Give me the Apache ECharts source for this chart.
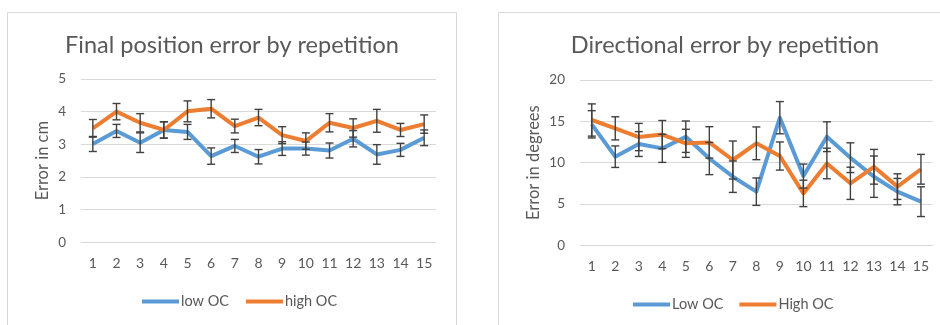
<!DOCTYPE html>
<html><head><meta charset="utf-8">
<script src="https://cdn.jsdelivr.net/npm/echarts@6/dist/echarts.min.js"></script>
<style>html,body{margin:0;padding:0;background:#fff;}#c{width:940px;height:325px;}</style>
</head><body><div id="c"></div>
<script>
const categories = ['1','2','3','4','5','6','7','8','9','10','11','12','13','14','15'];
const posTicks = [0,1,2,3,4,5];
const dirTicks = [0,5,10,15,20];
// Final position error (cm)
const posLow = [3.01,3.41,3.05,3.44,3.38,2.64,2.95,2.62,2.87,2.87,2.81,3.17,2.69,2.83,3.20];
const posLowErr = [0.23,0.20,0.30,0.25,0.23,0.25,0.20,0.22,0.21,0.20,0.23,0.25,0.30,0.20,0.24];
const posHigh = [3.49,4.00,3.66,3.44,4.01,4.09,3.56,3.82,3.28,3.10,3.66,3.50,3.72,3.44,3.62];
const posHighErr = [0.27,0.25,0.28,0.25,0.32,0.28,0.21,0.25,0.26,0.25,0.28,0.28,0.35,0.20,0.28];
// Directional error (degrees)
const dirLow = [14.64,10.72,12.25,11.73,13.14,10.50,8.30,6.49,15.44,8.38,13.14,10.60,8.30,6.49,5.28];
const dirLowErr = [1.65,1.30,1.50,1.70,1.90,1.95,1.90,1.66,1.95,1.45,1.80,1.80,2.50,1.60,1.80];
const dirHigh = [15.16,14.15,13.10,13.40,12.34,12.45,10.32,12.34,10.80,6.28,9.90,7.50,9.50,7.10,9.20];
const dirHighErr = [1.95,1.40,1.65,1.70,1.70,1.90,2.30,1.98,1.70,1.60,1.85,1.95,2.10,1.55,1.80];

const FONT = 'Lato';
const TXT = '#595959';
const BLUE = '#5B9BD5', ORANGE = '#ED7D31';

function errData(vals, errs){ return vals.map((v,i)=>[i, v-errs[i], v+errs[i]]); }
function errRender(params, api){
  const x = api.value(0);
  const lo = api.coord([x, api.value(1)]);
  const hi = api.coord([x, api.value(2)]);
  const w = 4;
  const st = {stroke:'#404040', lineWidth:1.4, fill:null};
  return {type:'group', children:[
    {type:'line', shape:{x1:lo[0],y1:lo[1],x2:hi[0],y2:hi[1]}, style:st},
    {type:'line', shape:{x1:lo[0]-w,y1:lo[1],x2:lo[0]+w,y2:lo[1]}, style:st},
    {type:'line', shape:{x1:hi[0]-w,y1:hi[1],x2:hi[0]+w,y2:hi[1]}, style:st}
  ]};
}
function xAx(gi){ return {type:'category', gridIndex:gi, data:categories, boundaryGap:true,
  axisLine:{show:true, lineStyle:{color:'#D9D9D9'}}, axisTick:{show:false},
  axisLabel:{color:TXT, fontFamily:FONT, fontSize:14, margin:14}}; }
function yAx(gi, ticks, name, gap){ return {type:'value', gridIndex:gi, min:ticks[0], max:ticks[ticks.length-1], interval:ticks[1]-ticks[0],
  name:name, nameLocation:'middle', nameGap:gap, nameTextStyle:{color:TXT, fontFamily:FONT, fontSize:16.5},
  axisLine:{show:false}, axisTick:{show:false},
  axisLabel:{color:TXT, fontFamily:FONT, fontSize:13.5, margin:15},
  splitLine:{lineStyle:{color:'#D9D9D9', width:1}}}; }
function lineS(name, data, color, gi){ return {type:'line', name:name, data:data, xAxisIndex:gi, yAxisIndex:gi,
  symbol:'none', lineStyle:{width:4, color:color, join:'round'}, itemStyle:{color:color}, z:2}; }
function errS(vals, errs, gi){ return {type:'custom', xAxisIndex:gi, yAxisIndex:gi, data:errData(vals, errs),
  renderItem:errRender, encode:{x:0, y:[1,2]}, z:5, silent:true}; }

const chart = echarts.init(document.getElementById('c'), null, {renderer:'canvas'});
chart.setOption({
  animation:false,
  backgroundColor:'#fff',
  graphic:[
    {type:'rect', shape:{x:7.5, y:12.5, width:449, height:340}, style:{fill:null, stroke:'#D9D9D9', lineWidth:1}, z:-10},
    {type:'rect', shape:{x:498.5, y:12.5, width:460, height:340}, style:{fill:null, stroke:'#D9D9D9', lineWidth:1}, z:-10}
  ],
  title:[
    {text:'Final position error by repetition', left:227, top:28, textAlign:'center',
     textStyle:{color:TXT, fontFamily:FONT, fontSize:23.5, fontWeight:'normal'}},
    {text:'Directional error by repetition', left:720, top:28, textAlign:'center',
     textStyle:{color:TXT, fontFamily:FONT, fontSize:23.5, fontWeight:'normal'}}
  ],
  legend:[
    {data:['low OC','high OC'], left:137, top:289, icon:'rect', itemWidth:37, itemHeight:4, itemGap:17,
     textStyle:{color:TXT, fontFamily:FONT, fontSize:14.5, padding:[0,0,0,-3]}},
    {data:['Low OC','High OC'], left:628, top:292, icon:'rect', itemWidth:37, itemHeight:4, itemGap:16,
     textStyle:{color:TXT, fontFamily:FONT, fontSize:14.5, padding:[0,0,0,-3]}}
  ],
  grid:[
    {left:81, right:504, top:79, bottom:82.7},
    {left:580, right:7.3, top:80, bottom:79.7}
  ],
  xAxis:[xAx(0), xAx(1)],
  yAxis:[yAx(0, posTicks, 'Error in cm', 30), yAx(1, dirTicks, 'Error in degrees', 38)],
  series:[
    lineS('low OC', posLow, BLUE, 0),
    lineS('high OC', posHigh, ORANGE, 0),
    errS(posLow, posLowErr, 0),
    errS(posHigh, posHighErr, 0),
    lineS('Low OC', dirLow, BLUE, 1),
    lineS('High OC', dirHigh, ORANGE, 1),
    errS(dirLow, dirLowErr, 1),
    errS(dirHigh, dirHighErr, 1)
  ]
});
</script></body></html>
